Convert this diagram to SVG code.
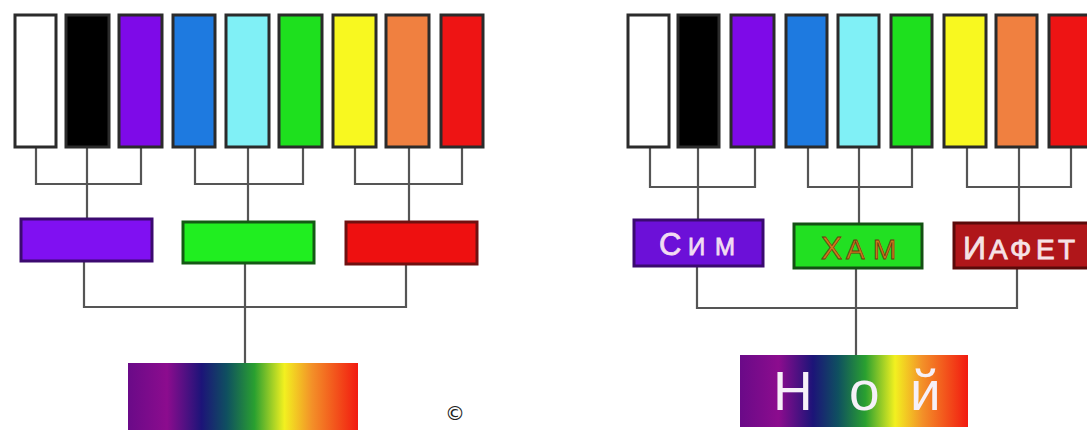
<svg xmlns="http://www.w3.org/2000/svg" width="1087" height="430" viewBox="0 0 1087 430">
<style>
.bar{stroke:#2b2b2b;stroke-width:3}
.box{stroke-width:3}
.ln{stroke:#555;stroke-width:2.2;fill:none}
.lbl{font-family:"Liberation Sans",Arial,sans-serif;font-variant:small-caps;stroke-width:0.8}
</style>
<defs>
<linearGradient id="spec" x1="0" y1="0" x2="1" y2="0">
<stop offset="0" stop-color="#6a0a88"/>
<stop offset="0.17" stop-color="#8c0c8e"/>
<stop offset="0.32" stop-color="#1c1478"/>
<stop offset="0.43" stop-color="#0f5060"/>
<stop offset="0.55" stop-color="#2aa030"/>
<stop offset="0.68" stop-color="#f2f020"/>
<stop offset="0.8" stop-color="#f39028"/>
<stop offset="1" stop-color="#f21a10"/>
</linearGradient>
</defs>
<rect width="1087" height="430" fill="#fff"/>
<g id="connectors">
<path class="ln" d="M36 147V184H141V147M87 147V218"/>
<path class="ln" d="M195 147V184H303V147M248 147V221"/>
<path class="ln" d="M355 147V184H462V147M409 147V221"/>
<path class="ln" d="M84 262V307H406V265M245 264V363"/>
<path class="ln" d="M650 147V187H755V147M698 147V219"/>
<path class="ln" d="M808 147V187H912V147M859 147V223"/>
<path class="ln" d="M967 147V187H1071V147M1019 147V222"/>
<path class="ln" d="M697 267V308H1017V269M856 269V355"/>
</g>
<g id="left-bars">
<rect id="l-white" class="bar" x="15" y="15" width="41" height="132" fill="#ffffff"/>
<rect id="l-black" class="bar" x="66" y="15" width="43" height="132" fill="#000000"/>
<rect id="l-violet" class="bar" x="119" y="15" width="43" height="132" fill="#7e0ae8" stroke="#3a0a6a"/>
<rect id="l-blue" class="bar" x="173" y="15" width="42" height="132" fill="#1e7ae0" stroke="#103a70"/>
<rect id="l-cyan" class="bar" x="226" y="15" width="43" height="132" fill="#80f0f6" stroke="#2a4a4a"/>
<rect id="l-green" class="bar" x="279" y="15" width="43" height="132" fill="#1ee01e" stroke="#1a4a1a"/>
<rect id="l-yellow" class="bar" x="333" y="15" width="43" height="132" fill="#f8f820" stroke="#4a4210"/>
<rect id="l-orange" class="bar" x="386" y="15" width="43" height="132" fill="#f08040" stroke="#5a2a10"/>
<rect id="l-red" class="bar" x="441" y="15" width="42" height="132" fill="#ee1414" stroke="#6a1010"/>
</g>
<g id="left-mid">
<rect id="l-m1" class="box" x="21" y="219" width="131" height="42" fill="#8010f2" stroke="#3c0a70"/>
<rect id="l-m2" class="box" x="183" y="222" width="131" height="41" fill="#20ee20" stroke="#145a14"/>
<rect id="l-m3" class="box" x="346" y="222" width="131" height="42" fill="#ee1010" stroke="#701010"/>
</g>
<g id="left-spectrum">
<rect x="128" y="363" width="230" height="70" fill="url(#spec)"/>
</g>
<text x="455" y="420" font-family="'DejaVu Sans',sans-serif" font-size="20" text-anchor="middle" fill="#222">©</text>
<g id="right-bars">
<rect id="r-white" class="bar" x="628" y="15" width="41" height="132" fill="#ffffff"/>
<rect id="r-black" class="bar" x="678" y="15" width="41" height="132" fill="#000000"/>
<rect id="r-violet" class="bar" x="731" y="15" width="43" height="132" fill="#7e0ae8" stroke="#3a0a6a"/>
<rect id="r-blue" class="bar" x="786" y="15" width="41" height="132" fill="#1e7ae0" stroke="#103a70"/>
<rect id="r-cyan" class="bar" x="838" y="15" width="41" height="132" fill="#80f0f6" stroke="#2a4a4a"/>
<rect id="r-green" class="bar" x="891" y="15" width="41" height="132" fill="#1ee01e" stroke="#1a4a1a"/>
<rect id="r-yellow" class="bar" x="944" y="15" width="42" height="132" fill="#f8f820" stroke="#4a4210"/>
<rect id="r-orange" class="bar" x="996" y="15" width="41" height="132" fill="#f08040" stroke="#5a2a10"/>
<rect id="r-red" class="bar" x="1049" y="15" width="45" height="132" fill="#ee1414" stroke="#6a1010"/>
</g>
<g id="sim">
<rect class="box" x="634" y="220" width="129" height="46" fill="#6c10d8" stroke="#3a0a70"/>
<text class="lbl" y="255" fill="#f2dcf2" stroke="#f2dcf2"><tspan x="659" font-size="31">С</tspan><tspan x="688 715" font-size="34">им</tspan></text>
</g>
<g id="ham">
<rect class="box" x="794" y="224" width="128" height="44" fill="#22e022" stroke="#145014"/>
<text class="lbl" y="259" fill="#d27a1c" stroke="#6a3a10"><tspan x="821" font-size="32">Х</tspan><tspan x="846 873" font-size="40">ам</tspan></text>
</g>
<g id="iafet">
<rect class="box" x="954" y="223" width="135" height="45" fill="#b0161a" stroke="#5a0a0a"/>
<text class="lbl" y="259" fill="#f6e2e6" stroke="#f6e2e6"><tspan x="963" font-size="32">И</tspan><tspan x="989 1010 1036 1058" font-size="40">афет</tspan></text>
</g>
<g id="noi">
<rect x="740" y="355" width="228" height="72" fill="url(#spec)"/>
<text x="773 849 910" y="410" font-family="'Liberation Sans',Arial,sans-serif" font-size="55" fill="#f6f0f8">Ной</text>
</g>
</svg>
